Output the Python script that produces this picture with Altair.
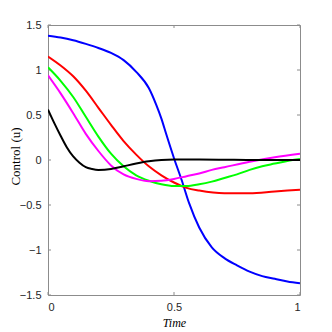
import altair as alt
import pandas as pd

# Series data
blue_t = [0, 0.05, 0.1, 0.15, 0.2, 0.25, 0.3, 0.35, 0.4, 0.43, 0.45, 0.47, 0.5, 0.53, 0.56, 0.6, 0.65, 0.7, 0.75, 0.8, 0.85, 0.9, 0.95, 1.0]
blue_u = [1.38, 1.36, 1.33, 1.29, 1.245, 1.19, 1.11, 0.98, 0.80, 0.61, 0.46, 0.28, 0.02, -0.22, -0.48, -0.75, -0.97, -1.09, -1.17, -1.24, -1.29, -1.32, -1.35, -1.37]

red_t = [0, 0.05, 0.1, 0.15, 0.2, 0.25, 0.3, 0.35, 0.4, 0.45, 0.5, 0.55, 0.6, 0.7, 0.8, 0.9, 1.0]
red_u = [1.15, 1.05, 0.93, 0.77, 0.58, 0.39, 0.21, 0.06, -0.07, -0.17, -0.25, -0.31, -0.34, -0.37, -0.37, -0.35, -0.33]

green_t = [0, 0.05, 0.1, 0.15, 0.2, 0.25, 0.3, 0.35, 0.4, 0.45, 0.5, 0.55, 0.6, 0.65, 0.7, 0.75, 0.8, 0.85, 0.9, 0.95, 1.0]
green_u = [1.03, 0.88, 0.70, 0.48, 0.26, 0.07, -0.07, -0.17, -0.23, -0.27, -0.29, -0.29, -0.27, -0.24, -0.20, -0.16, -0.11, -0.07, -0.04, -0.01, 0.01]

magenta_t = [0, 0.05, 0.1, 0.15, 0.2, 0.25, 0.3, 0.35, 0.4, 0.45, 0.5, 0.55, 0.6, 0.65, 0.7, 0.8, 0.9, 1.0]
magenta_u = [0.94, 0.74, 0.52, 0.29, 0.10, -0.06, -0.16, -0.21, -0.235, -0.23, -0.21, -0.18, -0.15, -0.11, -0.08, -0.02, 0.03, 0.07]

black_t = [0, 0.025, 0.05, 0.075, 0.1, 0.125, 0.15, 0.175, 0.2, 0.25, 0.3, 0.35, 0.4, 0.45, 0.5, 0.6, 0.7, 0.8, 0.9, 1.0]
black_u = [0.56, 0.41, 0.27, 0.14, 0.04, -0.03, -0.08, -0.10, -0.11, -0.10, -0.07, -0.04, -0.015, 0.0, 0.005, 0.005, 0.003, 0.0, 0.0, 0.0]

series_names = ["blue", "red", "green", "magenta", "black"]
series_colors = ["#0000ff", "#ff0000", "#00ff00", "#ff00ff", "#000000"]

x_ticks = [0, 0.5, 1]
y_ticks = [-1.5, -1, -0.5, 0, 0.5, 1, 1.5]

rows = []
for name, ts, us in [("blue", blue_t, blue_u), ("red", red_t, red_u), ("green", green_t, green_u),
                     ("magenta", magenta_t, magenta_u), ("black", black_t, black_u)]:
    for i, (t, u) in enumerate(zip(ts, us)):
        rows.append({"series": name, "t": t, "u": u, "i": i})
df = pd.DataFrame(rows)

W, H = 252, 270
axis_grey = "#8c8c8c"

xscale = alt.Scale(domain=[0, 1], nice=False, zero=False)
yscale = alt.Scale(domain=[-1.5, 1.5], nice=False, zero=False)

lines = alt.Chart(df).mark_line(strokeWidth=2, interpolate="monotone", clip=True).encode(
    x=alt.X("t:Q", scale=xscale, axis=alt.Axis(
        values=x_ticks, format="~g", title="Time", titleFontStyle="italic",
        titleFontSize=12, titleX=W / 2, titleY=31.5, titleBaseline="alphabetic",
        labelPadding=6)),
    y=alt.Y("u:Q", scale=yscale, axis=alt.Axis(
        values=y_ticks, format="~g", title="Control (u)", titleFontSize=13,
        titleX=-33, titleY=131, titleAngle=270, titleBaseline="middle",
        titleAlign="center", labelPadding=7)),
    color=alt.Color("series:N", scale=alt.Scale(domain=series_names, range=series_colors), legend=None),
    detail="series:N",
    order="i:Q",
)

xt = pd.DataFrame({"t": x_ticks})
yt = pd.DataFrame({"u": y_ticks})

tb = alt.Chart(xt).mark_rule(color=axis_grey, strokeWidth=1).encode(
    x=alt.X("t:Q", scale=xscale), y=alt.value(H), y2=alt.value(H - 3))
tt = alt.Chart(xt).mark_rule(color=axis_grey, strokeWidth=1).encode(
    x=alt.X("t:Q", scale=xscale), y=alt.value(0), y2=alt.value(3))
tl = alt.Chart(yt).mark_rule(color=axis_grey, strokeWidth=1).encode(
    y=alt.Y("u:Q", scale=yscale), x=alt.value(0), x2=alt.value(3))
tr = alt.Chart(yt).mark_rule(color=axis_grey, strokeWidth=1).encode(
    y=alt.Y("u:Q", scale=yscale), x=alt.value(W), x2=alt.value(W - 3))

chart = alt.layer(tb, tt, tl, tr, lines).properties(
    width=W, height=H,
    autosize=alt.AutoSizeParams(type="none"),
    padding={"left": 40, "top": 17, "right": 24, "bottom": 37},
).configure_view(
    stroke=axis_grey, strokeWidth=1
).configure_axis(
    domain=False, ticks=False, tickSize=0, grid=False,
    labelFont="Liberation Sans", labelFontSize=11, labelColor="#262626",
    titleFont="Liberation Serif", titleFontWeight="normal", titleColor="#000000",
)

chart.save("out.html", embed_options={"renderer": "svg", "actions": False})
